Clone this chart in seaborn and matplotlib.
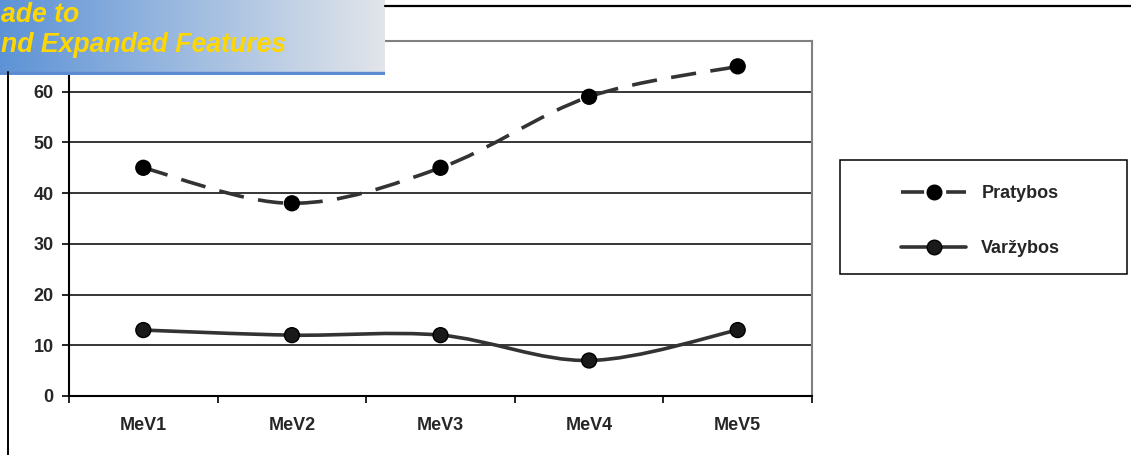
import numpy as np
import pandas as pd
import matplotlib
matplotlib.use("Agg")
import matplotlib.pyplot as plt
from matplotlib.path import Path
from matplotlib.patches import PathPatch, Rectangle
from matplotlib.lines import Line2D
import seaborn as sns

categories = ["MeV1", "MeV2", "MeV3", "MeV4", "MeV5"]
pratybos = [45, 38, 45, 59, 65]
varzybos = [13, 12, 12, 7, 13]
series_names = ["Pratybos", "Varžybos"]
y_ticks = [0, 10, 20, 30, 40, 50, 60]

sns.set_theme(style="white")
plt.rcParams["font.family"] = ["Liberation Sans", "DejaVu Sans"]
plt.rcParams["font.weight"] = "bold"

W, H = 1131, 455
FS = 13
fig = plt.figure(figsize=(W / 100, H / 100), dpi=100)
ax = fig.add_axes([69 / W, 1 - 396 / H, (812 - 69) / W, (396 - 41) / H])

df = pd.DataFrame({
    "cat": list(range(len(categories))) * 2,
    "value": pratybos + varzybos,
    "series": [series_names[0]] * len(categories) + [series_names[1]] * len(categories),
})


def smooth_path(xs, ys, k=1 / 6.0):
    """Bezier path through the points (Catmull-Rom style smoothing)."""
    pts = np.column_stack([xs, ys]).astype(float)
    n = len(pts)
    verts = [pts[0]]
    codes = [Path.MOVETO]
    for i in range(n - 1):
        p0 = pts[i - 1] if i > 0 else pts[i]
        p1 = pts[i]
        p2 = pts[i + 1]
        p3 = pts[i + 2] if i + 2 < n else pts[i + 1]
        c1 = p1 + (p2 - p0) * k
        c2 = p2 - (p3 - p1) * k
        verts += [c1, c2, p2]
        codes += [Path.CURVE4] * 3
    return Path(verts, codes)


line_color = "#333333"
LW = 2.6
styles = {series_names[0]: (0, (7, 4)), series_names[1]: "solid"}
for name in series_names:
    sub = df[df["series"] == name]
    patch = PathPatch(smooth_path(sub["cat"].values, sub["value"].values),
                      facecolor="none", edgecolor=line_color, lw=LW,
                      linestyle=styles[name], capstyle="butt", zorder=3)
    ax.add_patch(patch)

sns.scatterplot(data=df, x="cat", y="value", hue="series",
                palette={series_names[0]: "black", series_names[1]: "#1a1a1a"},
                s=115, edgecolor="black", linewidth=1, legend=False,
                ax=ax, zorder=4)

ax.set_xlim(-0.5, len(categories) - 0.5)
ax.set_ylim(0, 70)
ax.set_xlabel("")
ax.set_ylabel("")

# y axis
ax.set_yticks(y_ticks)
ax.set_yticklabels([str(v) for v in y_ticks], fontsize=FS, fontweight="bold")
for v in y_ticks[1:]:
    ax.axhline(v, color="black", lw=1.1, zorder=1)

# x axis: ticks at category boundaries, labels at centers
ax.set_xticks(np.arange(-0.5, len(categories), 1.0))
ax.set_xticklabels([])
ax.set_xticks(np.arange(len(categories)), minor=True)
ax.set_xticklabels(categories, minor=True, fontsize=FS, fontweight="bold")
ax.tick_params(axis="x", which="major", direction="out", length=5, width=1.2,
               color="black", bottom=True)
ax.tick_params(axis="x", which="minor", length=0, pad=15, bottom=True)
ax.tick_params(axis="y", direction="out", length=5, width=1.2, color="black",
               left=True, pad=6)

for side in ["left", "bottom"]:
    ax.spines[side].set_color("black")
    ax.spines[side].set_linewidth(1.5)
for side in ["top", "right"]:
    ax.spines[side].set_color("#808080")
    ax.spines[side].set_linewidth(1.5)

# legend: framed box with the entries inside
fig.add_artist(Rectangle((840 / W, 1 - 274 / H), (1127 - 840) / W, (274 - 160) / H,
                         facecolor="white", edgecolor="black", lw=1.1,
                         transform=fig.transFigure, zorder=5))
handles = [
    Line2D([], [], color=line_color, lw=LW, linestyle=(0, (6.4, 6.1)),
           marker="o", markersize=10.5, markerfacecolor="black",
           markeredgecolor="black"),
    Line2D([], [], color=line_color, lw=LW, linestyle="solid",
           marker="o", markersize=10.5, markerfacecolor="#1a1a1a",
           markeredgecolor="black"),
]
leg = fig.legend(handles, series_names, loc="center left",
                 bbox_to_anchor=(901 / W, 1 - 221 / H),
                 frameon=False, prop={"size": FS, "weight": "bold"},
                 handlelength=3.6, labelspacing=2.1, borderpad=0,
                 handletextpad=0.85, borderaxespad=0)
leg.set_zorder(6)

# page border lines
fig.add_artist(Line2D([385 / W, 1.0], [1 - 6 / H, 1 - 6 / H],
                      color="black", lw=1.6, transform=fig.transFigure))
fig.add_artist(Line2D([8 / W, 8 / W], [0, 1 - 72 / H],
                      color="black", lw=1.4, transform=fig.transFigure))

# banner
bax = fig.add_axes([0, 1 - 75 / H, 385 / W, 75 / H])
grad = np.linspace(0, 1, 256)
c0 = np.array([0x5d, 0x93, 0xd6]) / 255
c1 = np.array([0xe2, 0xe5, 0xea]) / 255
img = c0[None, :] * (1 - grad[:, None]) + c1[None, :] * grad[:, None]
bax.imshow(img[None, :, :], aspect="auto", extent=[0, 1, 0, 1])
bax.add_patch(Rectangle((0, 0), 1, 0.035, color="#5b8bd0",
                        transform=bax.transAxes))
bax.set_xlim(0, 1)
bax.set_ylim(0, 1)
bax.axis("off")
bax.text(0.002, 1 - 21.5 / 75, "ade to", color="#ffd700", fontsize=19.2,
         fontweight="bold", style="italic", va="baseline", ha="left",
         transform=bax.transAxes)
bax.text(0.002, 1 - 52 / 75, "nd Expanded Features", color="#ffd700",
         fontsize=19.2, fontweight="bold", style="italic", va="baseline",
         ha="left", transform=bax.transAxes)

fig.savefig("out.png", dpi=100)
